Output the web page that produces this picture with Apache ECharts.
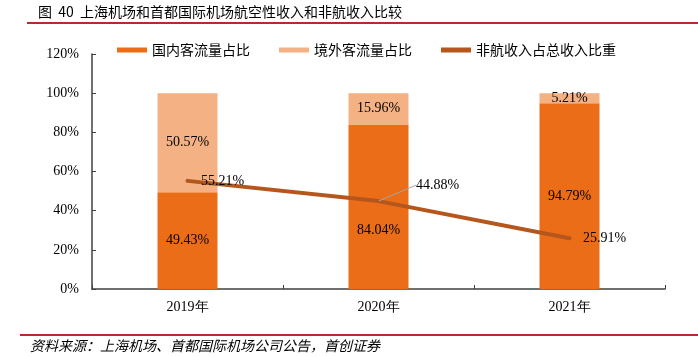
<!DOCTYPE html>
<html><head><meta charset="utf-8">
<script src="https://cdn.jsdelivr.net/npm/echarts@6/dist/echarts.min.js"></script>
<style>html,body{margin:0;padding:0;background:#fff}#c{width:698px;height:357px}</style>
</head><body><div id="c"></div>
<script>
var categories = ['2019年', '2020年', '2021年'];
var domestic = [49.43, 84.04, 94.79];
var international = [50.57, 15.96, 5.21];
var nonAero = [55.21, 44.88, 25.91];
var yTicks = [0, 20, 40, 60, 80, 100, 120];
var seriesNames = ['国内客流量占比', '境外客流量占比', '非航收入占总收入比重'];
var titleText = '图  40  上海机场和首都国际机场航空性收入和非航收入比较';
var sourceText = '资料来源：上海机场、首都国际机场公司公告，首创证券';

var serif = '"Liberation Serif", "Times New Roman", serif';
var cjk = '"Noto Sans CJK SC", sans-serif';
var chart = echarts.init(document.getElementById('c'));
function pct(p) { return p.value.toFixed(2) + '%'; }
var barLabel = {show: true, position: 'inside', color: '#000', fontFamily: serif, fontSize: 14, formatter: pct};
var domesticData = domestic.map(function (v, i) {
  return i === 1 ? {value: v, label: {offset: [0, 24]}} : v;
});
var lineData = nonAero.map(function (v, i) {
  return i === 1 ? {value: v, labelLine: {show: true, lineStyle: {color: '#A6A6A6', width: 1}}} : v;
});
chart.setOption({
  animation: false,
  graphic: [
    {type: 'text', left: 38, top: 5, style: {text: titleText, font: '14px ' + cjk, fill: '#000'}},
    {type: 'rect', shape: {x: 27, y: 22, width: 671, height: 2}, style: {fill: '#C0272D'}},
    {type: 'rect', shape: {x: 20, y: 334, width: 678, height: 2}, style: {fill: '#C0272D'}},
    {type: 'text', left: 30, top: 339, style: {text: sourceText, font: 'italic 14px ' + cjk, fill: '#000'}}
  ],
  legend: {
    left: 112, top: 38, itemWidth: 30, itemHeight: 5, itemGap: 29, icon: 'rect',
    textStyle: {fontFamily: cjk, fontSize: 14, color: '#000'},
    data: seriesNames
  },
  grid: {left: 92, right: 33, top: 54, bottom: 68},
  xAxis: {
    type: 'category', data: categories,
    axisLine: {lineStyle: {color: '#404040', width: 1.5}},
    axisTick: {show: true, inside: true, length: 4, lineStyle: {color: '#404040'}},
    axisLabel: {fontFamily: serif, fontSize: 14, color: '#000', margin: 11}
  },
  yAxis: {
    type: 'value', min: 0, max: 120, interval: 20,
    axisLine: {show: true, lineStyle: {color: '#404040', width: 1.5}},
    axisTick: {show: true, inside: true, length: 4, lineStyle: {color: '#404040'}},
    splitLine: {show: false},
    axisLabel: {fontFamily: serif, fontSize: 14, color: '#000', margin: 13,
      formatter: function (v) { return yTicks.indexOf(v) >= 0 ? v + '%' : ''; }}
  },
  series: [
    {name: seriesNames[0], type: 'bar', stack: 's', barWidth: 60, data: domesticData,
      itemStyle: {color: '#EB6D18'}, label: barLabel},
    {name: seriesNames[1], type: 'bar', stack: 's', barWidth: 60, data: international,
      itemStyle: {color: '#F4B183'}, label: barLabel},
    {name: seriesNames[2], type: 'line', data: lineData, showSymbol: true, symbol: 'circle', symbolSize: 1,
      lineStyle: {color: '#B5561D', width: 4, cap: 'round'}, itemStyle: {color: '#B5561D'},
      label: {show: true, position: 'right', distance: 13, color: '#000', fontFamily: serif, fontSize: 14,
        formatter: pct},
      labelLine: {show: false},
      labelLayout: function (p) {
        if (p.dataIndex === 1) { return {dx: 24, dy: -16}; }
        return {};
      },
      z: 5}
  ]
});
</script></body></html>
